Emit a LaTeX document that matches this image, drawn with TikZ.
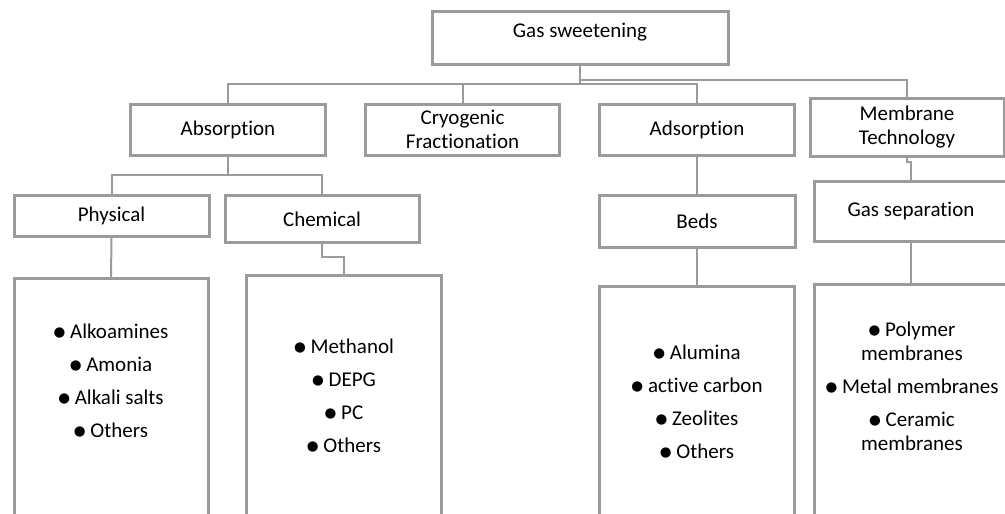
\documentclass[tikz,border=0pt]{standalone}
\usepackage{fontspec}
\setmainfont{Carlito}[Ligatures=NoCommon]
\newfontfamily\dejavu{DejaVu Sans}
\usetikzlibrary{calc}
\definecolor{boxgray}{RGB}{155,155,155}
\newcommand{\bul}{\raisebox{2pt}{\fontsize{13.5}{13.5}\dejavu ●}\ }

\begin{document}
\begin{tikzpicture}[x=1pt, y=-1pt,
  box/.style={draw=boxgray, line width=3pt, fill=white, align=center, inner sep=0pt, font=\fontsize{21}{24}\selectfont},
  listbox/.style={box, anchor=north, minimum height=300pt},
  items/.style={align=center, font=\fontsize{21}{24}\selectfont},
  link/.style={draw=boxgray, line width=2pt}]
 \fill[white] (0,0) rectangle (1005,514);
 \clip (0,0) rectangle (1005,514);

 %level 1
 \node[box, minimum width=296pt, minimum height=53pt, text depth=15pt] (gas) at (580,38) {Gas sweetening};

 %level 2
 \node[box, minimum width=195pt, minimum height=51pt] (absorb) at (228,129.5) {Absorption};
 \node[box, minimum width=194pt, minimum height=51pt] (cryo) at (462.5,129.5) {Cryogenic\\Fractionation};
 \node[box, minimum width=195pt, minimum height=51pt] (adsorb) at (697,129.5) {Adsorption};
 \node[box, minimum width=194pt, minimum height=58pt] (membr) at (907,127) {Membrane\\Technology};

 %level 3
 \node[box, minimum width=195pt, minimum height=41pt] (phys) at (111.5,216) {Physical};
 \node[box, minimum width=194pt, minimum height=47pt] (chem) at (322,219) {Chemical};
 \node[box, minimum width=196pt, minimum height=52pt] (beds) at (697,221) {Beds};
 \node[box, minimum width=193pt, minimum height=60pt] (gassep) at (911,211) {Gas separation};

 %lists
 \node[listbox, minimum width=194pt] (physlist) at (111,277) {};
 \node[listbox, minimum width=195pt] (chemlist) at (343.5,274) {};
 \node[listbox, minimum width=195pt] (bedlist) at (697,285) {};
 \node[listbox, minimum width=194pt] (memlist) at (911,283) {};

 \node[items] (physitems) at (111,381) {\bul Alkoamines\\[9pt] \bul Amonia\\[9pt] \bul Alkali salts\\[9pt] \bul Others};
 \node[items] (chemitems) at (344,396) {\bul Methanol\\[9pt] \bul DEPG\\[9pt] \bul PC\\[9pt] \bul Others};
 \node[items] (beditems) at (697,402) {\bul Alumina\\[9pt] \bul active carbon\\[9pt] \bul Zeolites\\[9pt] \bul Others};
 \node[items] (memitems) at (912,386) {\bul Polymer\\ membranes\\[9pt] \bul Metal membranes\\[9pt] \bul Ceramic\\ membranes};

 %lines
 \coordinate (bar) at (580,84);
 \coordinate (bar2) at (580,80);
 \path[link] (gas.south) -- (bar);
 \path[link] (absorb.north) |- (bar) -| (adsorb.north);
 \path[link] (cryo.north) -- (cryo.north |- bar);
 \path[link] (bar2) -| (membr.north);

 \coordinate (absbar) at (228,175);
 \path[link] (absorb.south) -- (absbar);
 \path[link] (phys.north) |- (absbar) -| (chem.north);

 \path[link] (phys.south) -- (physlist.north);
 \path[link] (chem.south) -- ++(0,13) -| (chemlist.north);
 \path[link] (adsorb.south) -- (beds.north);
 \path[link] (beds.south) -- (bedlist.north);
 \path[link] (membr.south) -- ++(0,4) -| (gassep.north);
 \path[link] (gassep.south) -- (memlist.north);
\end{tikzpicture}
\end{document}
